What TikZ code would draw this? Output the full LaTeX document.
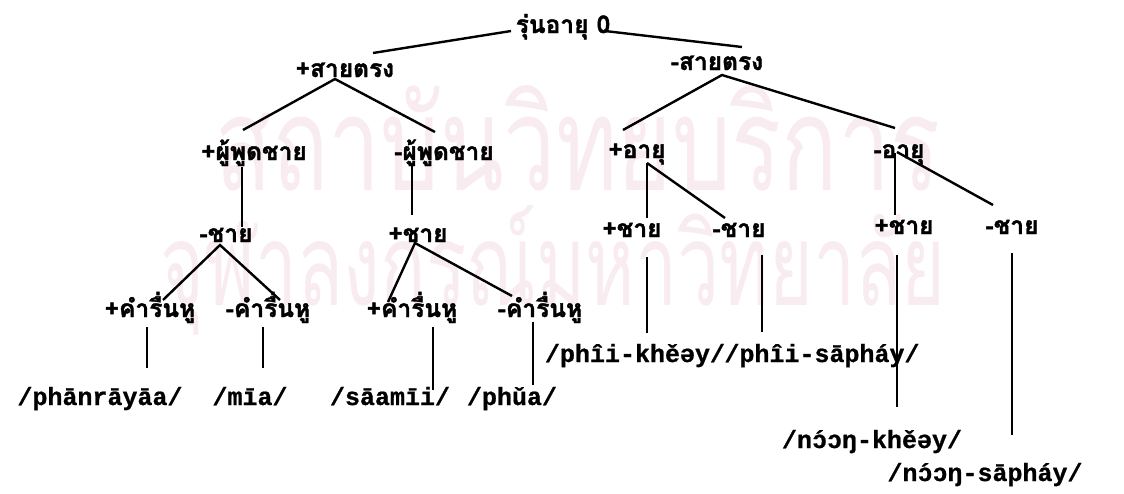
\documentclass[tikz,border=0pt]{standalone}
\usepackage{fontspec}
\usepackage{graphicx}
\newfontfamily\thaifont[Script=Thai,BoldFeatures={FakeBold=1.6}]{Loma}
\newfontfamily\stampfont[Script=Thai]{Loma}
\setmonofont[BoldFeatures={FakeBold=0.8}]{Liberation Mono}
\definecolor{wmpink}{RGB}{248,236,241}
\newcommand\oac{\rlap{ɔ}´}

\begin{document}
\begin{tikzpicture}[x=1pt,y=-1pt,
  feat/.style={anchor=base, inner sep=0pt, font=\thaifont\bfseries\fontsize{24.5}{26}\selectfont},
  word/.style={anchor=base, inner sep=0pt, font=\ttfamily\bfseries\fontsize{25}{27}\selectfont},
  branch/.style={line width=2.4pt},
  stem/.style={line width=1.8pt}]
\useasboundingbox (0,0) rectangle (1124,493);

% faint stamp behind the tree
\node[anchor=base west, inner sep=0pt, text=wmpink] (wm1) at (215,190)
  {\resizebox{725pt}{105pt}{\stampfont สถาบันวิทยบริการ}};
\node[anchor=base west, inner sep=0pt, text=wmpink] (wm2) at (160,305)
  {\resizebox{785pt}{100pt}{\stampfont จุฬาลงกรณ์มหาวิทยาลัย}};

% features
\node[feat] (root) at (563,33) {รุ่นอายุ 0};
\node[feat] (s1) at (345,77) {+สายตรง};
\node[feat] (s2) at (717,70) {-สายตรง};
\node[feat] (p1) at (254,160) {+ผู้พูดชาย};
\node[feat] (p2) at (444,160) {-ผู้พูดชาย};
\node[feat] (a1) at (637,158) {+อายุ};
\node[feat] (a2) at (899,158) {-อายุ};
\node[feat] (m1) at (226,242) {-ชาย};
\node[feat] (m2) at (418,242) {+ชาย};
\node[feat] (n1) at (632,237) {+ชาย};
\node[feat] (n2) at (739,237) {-ชาย};
\node[feat] (n3) at (904,234) {+ชาย};
\node[feat] (n4) at (1012,234) {-ชาย};
\node[feat] (k1) at (150,317) {+คำรื่นหู};
\node[feat] (k2) at (268,317) {-คำรื่นหู};
\node[feat] (k3) at (412,317) {+คำรื่นหู};
\node[feat] (k4) at (540,317) {-คำรื่นหู};

% words
\node[word] (w1) at (100,405) {/phānrāyāa/};
\node[word] (w2) at (250,405) {/mīa/};
\node[word] (w3) at (390,405) {/sāamīi/};
\node[word] (w4) at (512,405) {/phǔa/};
\node[word] (w5) at (635,362) {/phîi-khěəy/};
\node[word] (w6) at (822,362) {/phîi-sāpháy/};
\node[word] (w7) at (872,448) {/n\oac ɔŋ-khěəy/};
\node[word] (w8) at (985,481) {/n\oac ɔŋ-sāpháy/};

% branches
\draw[branch] ([shift={(-52,-2)}]root.base) -- ([shift={(28,-24)}]s1.base);
\draw[branch] ([shift={(42,-2)}]root.base) -- ([shift={(25,-23)}]s2.base);
\draw[branch] ([shift={(-11,-30)}]p1.base) -- ([shift={(-10,2)}]s1.base) -- ([shift={(-9,-28)}]p2.base);
\draw[branch] ([shift={(-14,-28)}]a1.base) -- ([shift={(5,5)}]s2.base) -- ([shift={(-4,-30)}]a2.base);
\draw[stem] ([shift={(-12,7)}]p1.base) -- ([shift={(16,-15)}]m1.base);
\draw[stem] ([shift={(-32,3)}]p2.base) -- ([shift={(-6,-27)}]m2.base);
\draw[stem] ([shift={(10,5)}]a1.base) -- ([shift={(15,-19)}]n1.base);
\draw[branch] ([shift={(10,5)}]a1.base) -- ([shift={(-14,-19)}]n2.base);
\draw[stem] ([shift={(-4,-5)}]a2.base) -- ([shift={(-9,-19)}]n3.base);
\draw[branch] ([shift={(-2,-6)}]a2.base) -- ([shift={(-19,-29)}]n4.base);
\draw[branch] ([shift={(13,-17)}]k1.base) -- ([shift={(-6,3)}]m1.base) -- ([shift={(12,-17)}]k2.base);
\draw[branch] ([shift={(-24,-15)}]k3.base) -- ([shift={(-3,1)}]m2.base) -- ([shift={(-28,-21)}]k4.base);
\draw[stem] ([shift={(-3,10)}]k1.base) -- ([shift={(47,-37)}]w1.base);
\draw[stem] ([shift={(-5,10)}]k2.base) -- ([shift={(13,-37)}]w2.base);
\draw[stem] ([shift={(21,10)}]k3.base) -- ([shift={(43,-15)}]w3.base);
\draw[stem] ([shift={(-7,5)}]k4.base) -- ([shift={(21,-20)}]w4.base);
\draw[stem] ([shift={(15,20)}]n1.base) -- ([shift={(12,-29)}]w5.base);
\draw[stem] ([shift={(23,18)}]n2.base) -- ([shift={(-60,-30)}]w6.base);
\draw[stem] ([shift={(-7,21)}]n3.base) -- ([shift={(25,-41)}]w7.base);
\draw[stem] ([shift={(0,19)}]n4.base) -- ([shift={(27,-46)}]w8.base);
\end{tikzpicture}
\end{document}
